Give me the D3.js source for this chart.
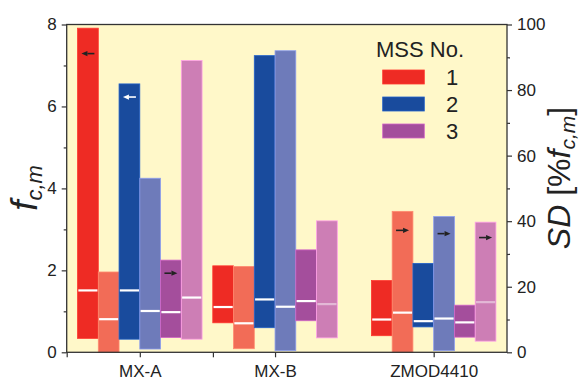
<!DOCTYPE html>
<html>
<head>
    <title>MSS floating bars</title>
    <script src="https://d3js.org/d3.v7.min.js"></script>
    <style>
        body { margin: 0; background: #fff; }
        svg text { font-family: "Liberation Sans", Arial, sans-serif; fill: #222; }
    </style>
</head>
<body>
<div id="chart"></div>
<script>
    // categories
    var groups = ["MX-A", "MX-B", "ZMOD4410"];
    var groupPos = [1, 2.85, 5.02];     // position on the x axis (units)
    var extraTicks = [0, 2];            // unlabeled x ticks
    var mss = ["1", "2", "3"];

    // f_c,m  (left axis) per MSS, per group: min / median / max
    var fcmMin = [[0.34, 0.72, 0.405], [0.32, 0.60, 0.62], [0.36, 0.77, 0.37]];
    var fcmMed = [[1.51, 1.105, 0.80], [1.51, 1.29, 0.76], [0.98, 1.25, 0.73]];
    var fcmMax = [[7.91, 2.11, 1.75], [6.55, 7.24, 2.17], [2.25, 2.50, 1.15]];

    // SD [% f_c,m] (right axis) per MSS, per group: min / median / max
    var sdMin = [[0, 1.1, 0], [1.0, 0.5, 0.5], [4.0, 4.4, 3.4]];
    var sdMed = [[10.1, 8.85, 12.1], [12.6, 13.9, 10.3], [16.7, 14.7, 15.3]];
    var sdMax = [[24.5, 26.2, 43.0], [53.1, 92.0, 41.4], [89.0, 40.1, 39.7]];

    // axis ticks
    var leftTicks = [0, 2, 4, 6, 8];
    var leftMinor = [1, 3, 5, 7];
    var rightTicks = [0, 20, 40, 60, 80, 100];
    var rightMinor = [10, 30, 50, 70, 90];

    // small arrows pointing to the axis each bar belongs to
    var arrows = [
        { group: 0, slot: 0, axis: "L", value: 7.29, dir: -1, color: "#222" },
        { group: 0, slot: 2, axis: "L", value: 6.23, dir: -1, color: "#fff" },
        { group: 0, slot: 4, axis: "L", value: 1.93, dir: 1, color: "#222" },
        { group: 2, slot: 1, axis: "R", value: 37.2, dir: 1, color: "#222" },
        { group: 2, slot: 3, axis: "R", value: 36.2, dir: 1, color: "#222" },
        { group: 2, slot: 5, axis: "R", value: 35.0, dir: 1, color: "#222" }
    ];

    var fcmColor = ["#ee2b24", "#194b9d", "#a44e9c"];
    var sdColor = ["#f26c57", "#6e7bba", "#cd7eb5"];

    var width = 587, height = 381;
    var x0 = 66.7, x1 = 507, yTop = 24.5, yBot = 352.3;
    var barW = 0.2839;

    var svg = d3.select("#chart").append("svg")
        .attr("width", width)
        .attr("height", height);

    var x = d3.scaleLinear().domain([0, 6.023]).range([x0, x1]);
    var yL = d3.scaleLinear().domain([0, 8]).range([yBot, yTop]);
    var yR = d3.scaleLinear().domain([0, 100]).range([yBot, yTop]);

    // plot background
    svg.append("rect")
        .attr("x", x0).attr("y", yTop)
        .attr("width", x1 - x0).attr("height", yBot - yTop)
        .attr("fill", "#fff8c9");

    // build bar list
    var bars = [];
    groups.forEach(function(g, gi) {
        mss.forEach(function(m, mi) {
            bars.push({ gi: gi, slot: mi * 2, y: yL, lo: fcmMin[mi][gi], med: fcmMed[mi][gi], hi: fcmMax[mi][gi], color: fcmColor[mi] });
            bars.push({ gi: gi, slot: mi * 2 + 1, y: yR, lo: sdMin[mi][gi], med: sdMed[mi][gi], hi: sdMax[mi][gi], color: sdColor[mi],
                faint: mi == 2 && gi > 0 });
        });
    });

    function barLeft(gi, slot) { return x(groupPos[gi] + (slot - 3) * barW); }
    var bwPx = x(barW) - x(0);

    var bar = svg.append("g").selectAll("g")
        .data(bars)
        .enter().append("g");

    bar.append("rect")
        .attr("x", function(d) { return barLeft(d.gi, d.slot); })
        .attr("width", bwPx)
        .attr("y", function(d) { return d.y(d.hi); })
        .attr("height", function(d) { return d.y(d.lo) - d.y(d.hi); })
        .attr("fill", function(d) { return d.color; })
        .attr("stroke", function(d) { return d3.color(d.color).brighter(0.7); })
        .attr("stroke-width", 0.8);

    bar.append("line")
        .attr("x1", function(d) { return barLeft(d.gi, d.slot) + 0.8; })
        .attr("x2", function(d) { return barLeft(d.gi, d.slot) + bwPx - 0.8; })
        .attr("y1", function(d) { return d.y(d.med); })
        .attr("y2", function(d) { return d.y(d.med); })
        .attr("stroke", "#fff")
        .attr("stroke-opacity", function(d) { return d.faint ? 0.45 : 1; })
        .attr("stroke-width", 2.2);

    // arrows
    arrows.forEach(function(a) {
        var cx = barLeft(a.group, a.slot) + bwPx / 2;
        var cy = (a.axis == "L" ? yL : yR)(a.value);
        var len = 13, head = 6;
        var tip = cx + a.dir * len / 2, tail = cx - a.dir * len / 2;
        svg.append("line")
            .attr("x1", tail).attr("x2", tip - a.dir * head)
            .attr("y1", cy).attr("y2", cy)
            .attr("stroke", a.color).attr("stroke-width", 1.6);
        svg.append("path")
            .attr("d", "M" + tip + "," + cy + "L" + (tip - a.dir * head) + "," + (cy - 2.6) +
                "L" + (tip - a.dir * head) + "," + (cy + 2.6) + "Z")
            .attr("fill", a.color);
    });

    // frame
    svg.append("rect")
        .attr("x", x0).attr("y", yTop)
        .attr("width", x1 - x0).attr("height", yBot - yTop)
        .attr("fill", "none")
        .attr("stroke", "#333")
        .attr("stroke-width", 1.3);

    function styleAxis(g) {
        g.select(".domain").remove();
        g.selectAll("line").attr("stroke", "#333").attr("stroke-width", 1.2);
        g.selectAll("text").style("font-size", "17px").attr("fill", "#222");
    }

    // left axis
    svg.append("g").attr("transform", "translate(" + x0 + ",0)")
        .call(d3.axisLeft(yL).tickValues(leftTicks).tickSize(5).tickPadding(5).tickFormat(d3.format("d")))
        .call(styleAxis);
    svg.append("g").attr("transform", "translate(" + x0 + ",0)")
        .call(d3.axisLeft(yL).tickValues(leftMinor).tickSize(3).tickFormat(""))
        .call(styleAxis);

    // right axis
    svg.append("g").attr("transform", "translate(" + x1 + ",0)")
        .call(d3.axisRight(yR).tickValues(rightTicks).tickSize(5).tickPadding(5).tickFormat(d3.format("d")))
        .call(styleAxis);
    svg.append("g").attr("transform", "translate(" + x1 + ",0)")
        .call(d3.axisRight(yR).tickValues(rightMinor).tickSize(3).tickFormat(""))
        .call(styleAxis);

    // bottom axis
    svg.append("g").attr("transform", "translate(0," + yBot + ")")
        .call(d3.axisBottom(x).tickValues(groupPos).tickSize(5).tickPadding(8)
            .tickFormat(function(d, i) { return groups[i]; }))
        .call(styleAxis);
    svg.append("g").attr("transform", "translate(0," + yBot + ")")
        .call(d3.axisBottom(x).tickValues(extraTicks).tickSize(5).tickFormat(""))
        .call(styleAxis);

    // axis titles
    var lt = svg.append("text")
        .attr("transform", "translate(37,188) rotate(-90)")
        .attr("text-anchor", "middle")
        .style("font-size", "37px");
    lt.append("tspan").style("font-style", "italic").text("f");
    lt.append("tspan").style("font-style", "italic").style("font-size", "22px").attr("dy", 5).text("c,m");

    var rt = svg.append("text")
        .attr("transform", "translate(570,178) rotate(-90)")
        .attr("text-anchor", "middle")
        .style("font-size", "32px");
    rt.append("tspan").style("font-style", "italic").text("SD");
    rt.append("tspan").text(" [%");
    rt.append("tspan").style("font-style", "italic").text("f");
    rt.append("tspan").style("font-style", "italic").style("font-size", "21px").attr("dy", 5).text("c,m");
    rt.append("tspan").attr("dy", -5).text("]");

    // legend
    var leg = svg.append("g");
    leg.append("text")
        .attr("x", 376).attr("y", 57)
        .style("font-size", "22px")
        .text("MSS No.");
    mss.forEach(function(m, i) {
        var cy = 77 + i * 27;
        leg.append("rect")
            .attr("x", 382.7).attr("y", cy - 7)
            .attr("width", 41.6).attr("height", 14)
            .attr("fill", fcmColor[i])
            .attr("stroke", d3.color(fcmColor[i]).brighter(0.7))
            .attr("stroke-width", 0.8);
        leg.append("text")
            .attr("x", 452).attr("y", cy)
            .attr("dy", "0.36em")
            .attr("text-anchor", "middle")
            .style("font-size", "22px")
            .text(m);
    });
</script>
</body>
</html>
